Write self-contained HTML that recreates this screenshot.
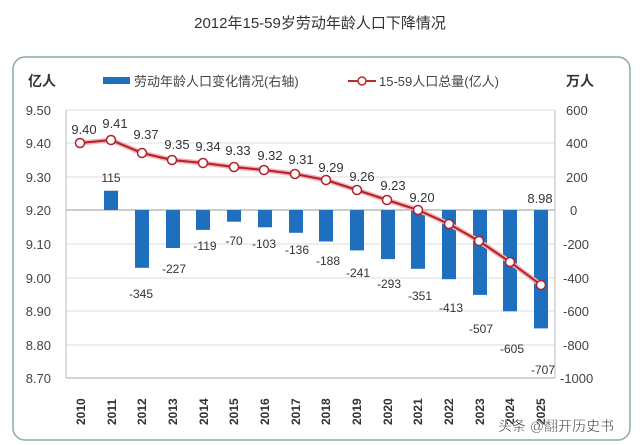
<!DOCTYPE html>
<html><head><meta charset="utf-8"><style>
html,body{margin:0;padding:0;background:#fff;}
svg{display:block;font-family:"Liberation Sans","Noto Sans CJK SC",sans-serif;}
</style></head><body>
<svg width="640" height="445" viewBox="0 0 640 445" xmlns="http://www.w3.org/2000/svg">
<rect x="0" y="0" width="640" height="445" fill="#fff"/>
<text x="320" y="28" text-anchor="middle" font-size="15" fill="#333">2012年15-59岁劳动年龄人口下降情况</text>
<rect x="13" y="57" width="617" height="383" rx="12" fill="#fff" stroke="#8fa8a8" stroke-width="1.5"/>
<text x="28" y="86" font-size="14" font-weight="bold" fill="#333">亿人</text>
<text x="580" y="86" font-size="14" font-weight="bold" fill="#333" text-anchor="middle">万人</text>
<rect x="103" y="77" width="27" height="7" fill="#1f6fbf"/>
<text x="134" y="86" font-size="13" fill="#444">劳动年龄人口变化情况(右轴)</text>
<line x1="348" y1="81" x2="376" y2="81" stroke="#c0282c" stroke-width="2"/>
<circle cx="362" cy="81" r="4" fill="#fff" stroke="#c0282c" stroke-width="1.5"/>
<text x="379" y="86" font-size="13" fill="#444">15-59人口总量(亿人)</text>
<g stroke="#ddd" stroke-width="1">
<line x1="66" y1="110" x2="555" y2="110"/><line x1="66" y1="143" x2="555" y2="143"/>
<line x1="66" y1="177" x2="555" y2="177"/><line x1="66" y1="244" x2="555" y2="244"/>
<line x1="66" y1="278" x2="555" y2="278"/><line x1="66" y1="311" x2="555" y2="311"/>
<line x1="66" y1="345" x2="555" y2="345"/>
</g>
<line x1="66" y1="210" x2="555" y2="210" stroke="#999"/>
<line x1="66" y1="378" x2="555" y2="378" stroke="#aaa"/>
<line x1="66" y1="110" x2="66" y2="378" stroke="#bbb"/>
<line x1="555" y1="110" x2="555" y2="378" stroke="#bbb"/>
<g font-size="13" fill="#444" text-anchor="end">
<text x="51" y="115">9.50</text><text x="51" y="148">9.40</text><text x="51" y="182">9.30</text>
<text x="51" y="215">9.20</text><text x="51" y="249">9.10</text><text x="51" y="283">9.00</text>
<text x="51" y="316">8.90</text><text x="51" y="350">8.80</text><text x="51" y="383">8.70</text>
</g>
<g font-size="13" fill="#444">
<text x="566" y="115">600</text><text x="566" y="148">400</text><text x="566" y="182">200</text>
<text x="570" y="215">0</text><text x="563" y="249">-200</text><text x="563" y="283">-400</text>
<text x="563" y="316">-600</text><text x="563" y="350">-800</text><text x="560" y="383">-1000</text>
</g>
<g fill="#1f6fbf">
<rect x="104" y="190.7" width="14" height="19.3"/>
<rect x="135" y="210" width="14" height="57.8"/>
<rect x="166" y="210" width="14" height="38"/>
<rect x="196" y="210" width="14" height="19.9"/>
<rect x="227" y="210" width="14" height="11.7"/>
<rect x="258" y="210" width="14" height="17.3"/>
<rect x="289" y="210" width="14" height="22.8"/>
<rect x="319" y="210" width="14" height="31.5"/>
<rect x="350" y="210" width="14" height="40.4"/>
<rect x="381" y="210" width="14" height="49.1"/>
<rect x="411" y="210" width="14" height="58.8"/>
<rect x="442" y="210" width="14" height="69.2"/>
<rect x="473" y="210" width="14" height="84.9"/>
<rect x="503" y="210" width="14" height="101.3"/>
<rect x="534" y="210" width="14" height="118.4"/>
</g>
<g font-size="12" fill="#333" text-anchor="middle">
<text x="111" y="182">115</text>
<text x="141" y="298">-345</text><text x="174" y="273">-227</text><text x="205" y="250">-119</text>
<text x="234" y="245">-70</text><text x="264" y="248">-103</text><text x="297" y="254">-136</text>
<text x="328" y="265">-188</text><text x="358" y="277">-241</text><text x="389" y="288">-293</text>
<text x="420" y="300">-351</text><text x="451" y="312">-413</text><text x="481" y="333">-507</text>
<text x="512" y="353">-605</text><text x="543" y="374">-707</text>
</g>
<polyline fill="none" stroke="#f2b0b0" stroke-width="5" points="80,143 111,140 142,153 172,160 203,163 234,167 264,170 295,174 326,180 357,190 387,200 418,210 449,224 479,241 510,262 541,285"/>
<polyline fill="none" stroke="#b4202a" stroke-width="2" points="80,143 111,140 142,153 172,160 203,163 234,167 264,170 295,174 326,180 357,190 387,200 418,210 449,224 479,241 510,262 541,285"/>
<g fill="#fff" stroke="#b4202a" stroke-width="1.5">
<circle cx="80" cy="143" r="4.5"/><circle cx="111" cy="140" r="4.5"/><circle cx="142" cy="153" r="4.5"/>
<circle cx="172" cy="160" r="4.5"/><circle cx="203" cy="163" r="4.5"/><circle cx="234" cy="167" r="4.5"/>
<circle cx="264" cy="170" r="4.5"/><circle cx="295" cy="174" r="4.5"/><circle cx="326" cy="180" r="4.5"/>
<circle cx="357" cy="190" r="4.5"/><circle cx="387" cy="200" r="4.5"/><circle cx="418" cy="210" r="4.5"/>
<circle cx="449" cy="224" r="4.5"/><circle cx="479" cy="241" r="4.5"/><circle cx="510" cy="262" r="4.5"/>
<circle cx="541" cy="285" r="4.5"/>
</g>
<g font-size="13" fill="#333" text-anchor="middle">
<text x="84" y="134">9.40</text><text x="115" y="128">9.41</text><text x="146" y="139">9.37</text>
<text x="177" y="149">9.35</text><text x="208" y="151">9.34</text><text x="238" y="155">9.33</text>
<text x="270" y="160">9.32</text><text x="301" y="164">9.31</text><text x="331" y="172">9.29</text>
<text x="362" y="181">9.26</text><text x="393" y="190">9.23</text><text x="422" y="202">9.20</text>
<text x="540" y="203">8.98</text>
</g>
<g font-size="12" fill="#333" font-weight="bold">
<text transform="translate(85,425) rotate(-90)">2010</text>
<text transform="translate(116,425) rotate(-90)">2011</text>
<text transform="translate(146,425) rotate(-90)">2012</text>
<text transform="translate(177,425) rotate(-90)">2013</text>
<text transform="translate(208,425) rotate(-90)">2014</text>
<text transform="translate(238,425) rotate(-90)">2015</text>
<text transform="translate(269,425) rotate(-90)">2016</text>
<text transform="translate(300,425) rotate(-90)">2017</text>
<text transform="translate(330,425) rotate(-90)">2018</text>
<text transform="translate(361,425) rotate(-90)">2019</text>
<text transform="translate(392,425) rotate(-90)">2020</text>
<text transform="translate(422,425) rotate(-90)">2021</text>
<text transform="translate(453,425) rotate(-90)">2022</text>
<text transform="translate(484,425) rotate(-90)">2023</text>
<text transform="translate(514,425) rotate(-90)">2024</text>
<text transform="translate(545,425) rotate(-90)">2025</text>
</g>
<text x="498" y="431" font-size="14" fill="#222" stroke="#fff" stroke-width="0.4">头条 @翻开历史书</text>
</svg>
</body></html>
